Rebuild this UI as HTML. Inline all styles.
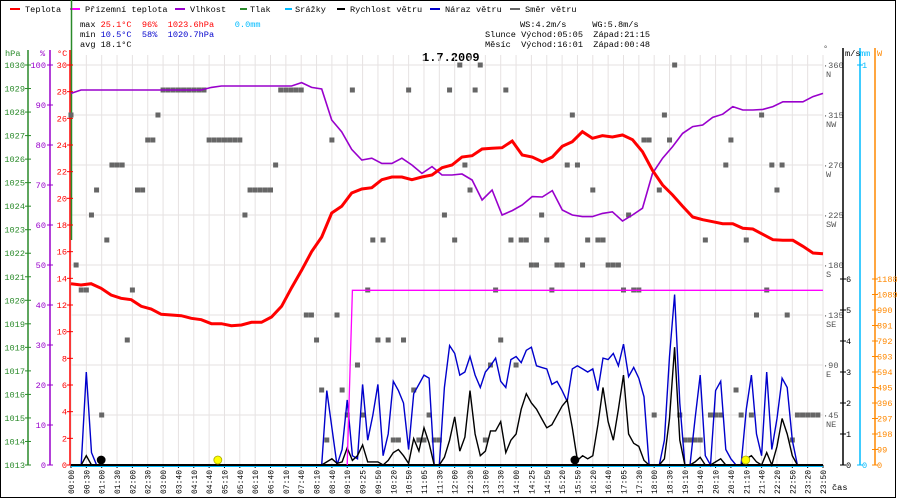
<!DOCTYPE html>
<html><head><meta charset="utf-8"><style>
html,body{margin:0;padding:0;background:#fff;}
svg{display:block;font-family:"Liberation Mono","DejaVu Sans Mono",monospace;font-size:8.6px;}
svg text{white-space:pre;}
</style></head><body>
<svg id="chart" width="900" height="500" viewBox="0 0 900 500" xmlns="http://www.w3.org/2000/svg" xml:space="preserve">
<rect x="0.5" y="0.5" width="895" height="497" fill="#fff" stroke="#000"/>
<g id="legend">
 <g><rect x="10" y="8" width="10" height="2" fill="#f00"/><text x="25" y="12">Teplota</text></g>
 <g><rect x="70" y="8" width="10" height="2" fill="#f0f"/><text x="85" y="12">Přízemní teplota</text></g>
 <g><rect x="175" y="8" width="10" height="2" fill="#90c"/><text x="190" y="12">Vlhkost</text></g>
 <g><rect x="240" y="8" width="7" height="2" fill="#2a8a2a"/><text x="250" y="12">Tlak</text></g>
 <g><rect x="285" y="8" width="7" height="2" fill="#0bf"/><text x="295" y="12">Srážky</text></g>
 <g><rect x="337" y="8" width="8" height="2" fill="#000"/><text x="350" y="12">Rychlost větru</text></g>
 <g><rect x="430" y="8" width="10" height="2" fill="#00c"/><text x="445" y="12">Náraz větru</text></g>
 <g><rect x="510" y="8" width="10" height="2" fill="#666"/><text x="525" y="12">Směr větru</text></g>
</g>
<g><text x="80" y="27">max <tspan fill="#f00">25.1°C  96%  1023.6hPa</tspan>    <tspan fill="#0bf">0.0mm</tspan></text><text x="80" y="37">min <tspan fill="#00c">10.5°C  58%  1020.7hPa</tspan></text><text x="80" y="47">avg 18.1°C</text><text x="520" y="27">WS:4.2m/s     WG:5.8m/s</text><text x="485" y="37">Slunce Východ:05:05  Západ:21:15</text><text x="485" y="47">Měsíc  Východ:16:01  Západ:00:48</text></g>
<text x="422" y="61" font-size="12" font-weight="bold">1.7.2009</text>
<g id="grid"></g>
<g id="axes"></g>
<g id="marks"></g>
</svg>
<script>
// ---------- data ----------
const timeLabels = ["00:00","00:30","01:00","01:30","02:00","02:30","03:00","03:40","04:10","04:40","05:10","05:40","06:10","06:40","07:10","07:40","08:10","08:40","09:10","09:25","09:50","10:20","10:50","11:05","11:30","12:00","12:30","13:00","13:30","14:00","14:25","14:50","15:20","15:50","16:20","16:40","17:05","17:30","18:00","18:30","19:10","19:40","20:10","20:40","21:10","21:40","22:20","22:50","23:20","23:50"];
const temperature = [13.6,13.5,13.6,13.25,12.75,12.5,12.4,11.9,11.7,11.3,11.25,11.2,11.0,10.9,10.6,10.6,10.45,10.5,10.7,10.7,11.1,11.9,13.3,14.6,16.0,17.1,18.9,19.4,20.4,20.7,20.8,21.4,21.6,21.6,21.4,21.6,21.75,22.3,22.5,23.1,23.2,23.7,23.75,23.8,24.3,23.25,23.1,22.75,23.1,23.9,24.25,25.0,24.5,24.7,24.6,24.75,24.4,23.5,22.1,21.0,20.25,19.4,18.6,18.4,18.25,18.1,18.1,17.75,17.7,17.3,16.9,16.85,16.85,16.4,15.9,15.85];
const humidity = [92.9,93.75,93.75,93.75,93.75,93.75,93.75,93.75,93.75,93.75,93.75,93.75,93.75,93.75,94.4,94.75,94.75,94.75,94.75,94.75,94.75,94.75,94.75,95.6,94.4,94.0,86.25,83.3,78.9,76.25,76.7,75.4,75.4,76.7,75.0,72.9,74.6,72.5,72.5,72.75,71.25,66.25,68.75,62.5,63.6,65.0,67.1,67.0,68.6,63.75,62.5,62.1,62.1,62.9,63.3,61.0,62.5,64.2,72.9,76.7,79.6,82.9,84.6,85.0,86.9,87.7,89.6,88.75,88.75,88.9,89.6,90.8,90.8,90.8,92.1,92.9];
const apparentTemp = [null,null,null,null,null,null,null,null,null,null,null,null,null,null,null,null,null,null,null,null,null,null,null,null,null,null,null,null,null,null,null,null,null,null,null,null,null,null,null,null,null,null,null,null,null,null,null,null,null,null,null,null,null,null,0,13.1,13.1,13.1,13.1,13.1,13.1,13.1,13.1,13.1,13.1,13.1,13.1,13.1,13.1,13.1,13.1,13.1,13.1,13.1,13.1,13.1,13.1,13.1,13.1,13.1,13.1,13.1,13.1,13.1,13.1,13.1,13.1,13.1,13.1,13.1,13.1,13.1,13.1,13.1,13.1,13.1,13.1,13.1,13.1,13.1,13.1,13.1,13.1,13.1,13.1,13.1,13.1,13.1,13.1,13.1,13.1,13.1,13.1,13.1,13.1,13.1,13.1,13.1,13.1,13.1,13.1,13.1,13.1,13.1,13.1,13.1,13.1,13.1,13.1,13.1,13.1,13.1,13.1,13.1,13.1,13.1,13.1,13.1,13.1,13.1,13.1,13.1,13.1,13.1,13.1,13.1,13.1,13.1];
const windGust = [0,0,0,3.0,0.4,0,0,0,0,0,0,0,0,0,0,0,0,0,0,0,0,0,0,0,0,0,0,0,0,0,0,0,0,0,0,0,0,0,0,0,0,0,0,0,0,0,0,0,0,
 0,2.4,1.2,0,0.5,2.1,0.3,0.2,2.6,0.8,1.6,2.6,0.3,1.0,2.7,2.4,2.0,0.5,2.3,2.6,2.9,2.8,0,0,2.5,3.85,3.6,2.9,3.0,3.5,2.9,2.5,3.0,3.2,3.45,2.7,2.5,3.4,3.5,3.3,3.7,3.8,3.2,3.15,3.1,2.6,2.7,2.4,2.05,3.1,3.2,3.1,3.0,3.1,2.4,3.45,3.4,3.6,3.2,3.9,2.85,3.15,2.8,2.2,0,0,0,0.8,3.5,5.5,2.0,0,0,1.5,2.9,0.3,0,2.4,2.7,0.5,0.2,0,0,1.8,2.9,1.0,0.3,3.0,0.5,1.5,2.8,2.5,0.8,0,0,0,0,0,0];
const windSpeed = [0,0,0,0.3,0,0,0,0,0,0,0,0,0,0,0,0,0,0,0,0,0,0,0,0,0,0,0,0,0,0,0,0,0,0,0,0,0,0,0,0,0,0,0,0,0,0,0,0,0,
 0,0.1,0.2,0.05,0.1,0.55,0.15,0.3,0.65,0.1,0.1,0.1,0,0.15,0.4,0.5,0.3,0.05,0.85,0.45,1.2,0.7,0,0,0.25,0.8,1.55,0.45,0.9,2.4,1.0,0.3,0.45,1.1,1.1,1.4,0.4,0.8,1.0,1.8,2.3,2.0,1.8,1.5,1.2,1.3,1.6,1.9,2.1,1.2,0.15,0.3,0.2,0.3,1.3,2.5,1.4,0.8,1.8,2.9,1.0,0.7,0.6,0.15,0,0,0,0.2,1.5,3.8,0.8,0,0,0.1,0.25,0,0,0.1,0.2,0,0,0,0,0.2,0.3,0.1,0,0.4,0,0.6,1.5,1.0,0.3,0,0,0,0,0,0];
const windDir = [315,180,157.5,157.5,225,247.5,45,202.5,270,270,270,112.5,157.5,247.5,247.5,292.5,292.5,315,337.5,337.5,337.5,337.5,337.5,337.5,337.5,337.5,337.5,292.5,292.5,292.5,292.5,292.5,292.5,292.5,225,247.5,247.5,247.5,247.5,247.5,270,337.5,337.5,337.5,337.5,337.5,135,135,112.5,67.5,22.5,292.5,135,67.5,45,337.5,90,45,157.5,202.5,112.5,202.5,112.5,22.5,22.5,112.5,337.5,67.5,22.5,22.5,45,22.5,22.5,225,337.5,202.5,360,270,247.5,337.5,360,22.5,90,157.5,112.5,337.5,202.5,90,202.5,202.5,180,180,225,202.5,157.5,180,180,270,315,270,180,202.5,247.5,202.5,202.5,180,180,180,157.5,225,157.5,157.5,292.5,292.5,45,247.5,315,292.5,360,45,22.5,22.5,22.5,22.5,202.5,45,45,45,270,292.5,67.5,45,202.5,45,135,315,157.5,270,247.5,270,135,22.5,45,45,45,45,45];
const sunMoonSlots = [5.9,28.7,98.5,131.9];
const sunMoonKinds = ["moon","sun","moon","sun"];
const hpaTicks = [1013,1014,1015,1016,1017,1018,1019,1020,1021,1022,1023,1024,1025,1026,1027,1028,1029,1030];
const humTicks = [0,10,20,30,40,50,60,70,80,90,100];
const tempTicks = [0,2,4,6,8,10,12,14,16,18,20,22,24,26,28,30];
const dirTicks = [45,90,135,180,225,270,315,360];
const dirNames = ["NE","E","SE","S","SW","W","NW","N"];
const msTicks = [0,1,2,3,4,5,6];
const wTicks = [0,99,198,297,396,495,594,693,792,891,990,1089,1188];

// ---------- scales ----------
const NS = 148, X0 = 71, X1 = 823, Y0 = 465, Y1 = 65;
const xSlot = k => X0 + k * (X1 - X0) / (NS - 1);
const xSample = (i, n) => xSlot(i * (NS - 1) / (n - 1));
const yTemp = t => Y0 - t * (Y0 - Y1) / 30;
const yHum = h => Y0 - h * (Y0 - Y1) / 100;
const yHpa = p => Y0 - (p - 1013) * (Y0 - Y1) / 17;
const yDir = d => Y0 - d * (Y0 - Y1) / 360;
const yMs = v => Y0 - v * 31;
const yW = w => Y0 - w * (31 * 6) / 1188;

const NSURI = "http://www.w3.org/2000/svg";
function mk(tag, attrs, parent) {
  const e = document.createElementNS(NSURI, tag);
  for (const k in attrs) e.setAttribute(k, attrs[k]);
  parent.appendChild(e);
  return e;
}
const grid = document.getElementById('grid');
const axes = document.getElementById('axes');
const marks = document.getElementById('marks');

timeLabels.forEach((lab, i) => {
  const x = xSlot(i * 3);
  const l = mk('line', {x1: x, x2: x, y1: 55, y2: Y0, stroke: '#e6e2e2', 'stroke-width': 1}, grid);
  
  
  const tk = mk('line', {x1: x, x2: x, y1: Y0, y2: Y0 + 3, stroke: '#000'}, axes);
  
  
  const t = mk('text', {x: x + 3, y: 494, transform: `rotate(-90 ${x + 3} 494)`, 'font-size': 8}, axes);
  t.textContent = lab;
  
  
});
dirTicks.concat([0]).forEach(d => {
  const y = yDir(d);
  const l = mk('line', {x1: X0, x2: X1, y1: y, y2: y, stroke: '#e6e2e2', 'stroke-width': 1}, grid);
  
  
});

function vAxis(x, y1, y2, color, name) {
  const l = mk('line', {x1: x, x2: x, y1: y1, y2: y2, stroke: color, 'stroke-width': 1.5}, axes);
  
  
}
vAxis(28, 50, Y0, '#2a8a2a', 'pressure-axis');
vAxis(50, 50, Y0, '#90c', 'humidity-axis');
vAxis(70, 50, Y0, '#f00', 'temperature-axis');
mk('line', {x1: 71.5, x2: 71.5, y1: 0, y2: 240, stroke: '#2a8a2a', 'stroke-width': 1.5}, axes);
function tickLabels(ticks, yf, xAxis, color, anchorX, name) {
  ticks.forEach(v => {
    const y = yf(v);
    mk('line', {x1: xAxis - 3, x2: xAxis + 3, y1: y, y2: y, stroke: color}, axes);
    const t = mk('text', {x: anchorX, y: y + 3, fill: color, 'text-anchor': 'end'}, axes);
    t.textContent = v;
    
    
  });
}
tickLabels(hpaTicks, yHpa, 28, '#2a8a2a', 25, 'pressure-tick-label');
tickLabels(humTicks, yHum, 50, '#90c', 46, 'humidity-tick-label');
tickLabels(tempTicks, yTemp, 70, '#f00', 67, 'temperature-tick-label');
[['hPa', 5, '#2a8a2a'], ['%', 40, '#90c'], ['°C', 57, '#f00']].forEach(([s, x, c]) => {
  const t = mk('text', {x: x, y: 56, fill: c}, axes);
  t.textContent = s;
  
  
});

const deg = mk('text', {x: 823, y: 51, fill: '#555'}, axes); deg.textContent = '°';
dirTicks.forEach((d, i) => {
  const y = yDir(d);
  const t = mk('text', {x: 823, y: y + 3, fill: '#555'}, axes);
  t.textContent = '·' + d;
  
  
  const n = mk('text', {x: 826, y: y + 12, fill: '#555'}, axes);
  n.textContent = dirNames[i];
  
  
});
vAxis(843, 48, Y0, '#000', 'wind-speed-axis');
vAxis(860, 48, Y0, '#0bf', 'rain-axis');
vAxis(875, 48, Y0, '#f80', 'solar-axis');
msTicks.forEach(v => {
  const y = yMs(v);
  mk('line', {x1: 840, x2: 846, y1: y, y2: y, stroke: '#000'}, axes);
  const t = mk('text', {x: 846, y: y + 3}, axes); t.textContent = v;
  
  
});
[[0, Y0], [1, Y1]].forEach(([v, y]) => {
  mk('line', {x1: 857, x2: 863, y1: y, y2: y, stroke: '#0bf'}, axes);
  const t = mk('text', {x: 862, y: y + 3, fill: '#0bf'}, axes); t.textContent = v;
  
  
});
wTicks.forEach(v => {
  const y = yW(v);
  mk('line', {x1: 872, x2: 878, y1: y, y2: y, stroke: '#f80'}, axes);
  const t = mk('text', {x: 877, y: y + 3, fill: '#f80'}, axes); t.textContent = v;
  
  
});
[['m/s', 845, '#000'], ['mm', 860, '#0bf'], ['W', 877, '#f80']].forEach(([s, x, c]) => {
  const t = mk('text', {x: x, y: 56, fill: c}, axes);
  t.textContent = s;
  
  
});
const cas = mk('text', {x: 832, y: 490}, axes); cas.textContent = 'čas';



function pathFrom(arr, xf, yf) {
  let d = '', pen = false;
  arr.forEach((v, i) => {
    if (v === null) { pen = false; return; }
    d += (pen ? 'L' : 'M') + xf(i).toFixed(1) + ' ' + yf(v).toFixed(1);
    pen = true;
  });
  return d;
}

windDir.forEach((d, k) => {
  const r = mk('rect', {x: xSlot(k) - 2.5, y: yDir(d) - 2.5, width: 5, height: 5, fill: '#666'}, marks);
  
  
});
const rain = mk('line', {x1: X0, x2: X1, y1: Y0 + 1, y2: Y0 + 1, stroke: '#0bf', 'stroke-width': 2}, marks);



const gp = mk('path', {d: pathFrom(windGust, xSlot, yMs), fill: 'none', stroke: '#00c', 'stroke-width': 1.4}, marks);


const sp = mk('path', {d: pathFrom(windSpeed, xSlot, yMs), fill: 'none', stroke: '#000', 'stroke-width': 1.4}, marks);


const base = mk('line', {x1: X0, x2: X1, y1: Y0, y2: Y0, stroke: '#000', 'stroke-width': 2}, marks);



const ap = mk('path', {d: pathFrom(apparentTemp, xSlot, yTemp), fill: 'none', stroke: '#f0f', 'stroke-width': 1.3}, marks);


const hp = mk('path', {d: pathFrom(humidity, i => xSample(i, humidity.length), yHum), fill: 'none', stroke: '#90c', 'stroke-width': 1.6}, marks);


const tp = mk('path', {d: pathFrom(temperature, i => xSample(i, temperature.length), yTemp), fill: 'none', stroke: '#f00', 'stroke-width': 3}, marks);



sunMoonSlots.forEach((s, i) => {
  const c = mk('circle', {cx: xSlot(s), cy: 460, r: 4, fill: sunMoonKinds[i] === 'sun' ? '#ff0' : '#000', stroke: sunMoonKinds[i] === 'sun' ? '#aa0' : '#000', 'stroke-width': 0.8}, marks);
  
  
});
</script>
</body></html>
